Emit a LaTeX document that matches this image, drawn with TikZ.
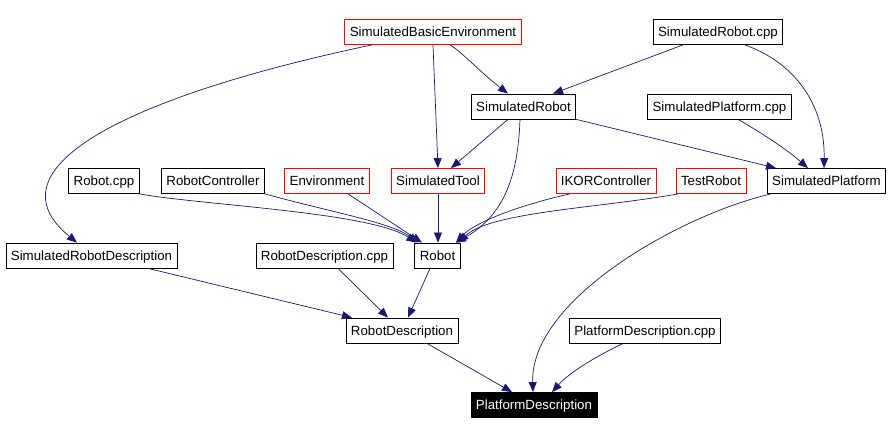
\documentclass[tikz,border=0pt]{standalone}
\usepackage{fontspec}
\setmainfont{Liberation Sans}
\usetikzlibrary{arrows.meta}

\definecolor{depblue}{RGB}{25,25,112}
\newcommand{\graphfont}{\fontsize{13.3pt}{16pt}\selectfont}

\tikzset{
  cls/.style={draw=black, line width=0.8pt, fill=white, font=\graphfont,
    inner xsep=5pt, inner ysep=6pt, text height=11.5pt, text depth=1.5pt},
  redcls/.style={cls, draw=red},
  maincls/.style={cls, fill=black, text=white},
  dep/.style={draw=depblue, line width=0.7pt, -{Triangle[length=10pt,width=8pt]}},
}

\begin{document}
\begin{tikzpicture}[x=1pt,y=-1pt]
  \useasboundingbox (0,0) rectangle (892,435);
  % Top rows
  \node[redcls] (SBE)    at (433,32)      {SimulatedBasicEnvironment};
  \node[cls]    (SRcpp)  at (718,32)      {SimulatedRobot.cpp};
  \node[cls]    (SR)     at (523.5,106.5) {SimulatedRobot};
  \node[cls]    (SPcpp)  at (719.5,106.5) {SimulatedPlatform.cpp};
  % Middle row
  \node[cls]    (Rcpp)   at (104,181)     {Robot.cpp};
  \node[cls]    (RC)     at (213,181)     {RobotController};
  \node[redcls] (Env)    at (327,181)     {Environment};
  \node[redcls] (ST)     at (438,181)     {SimulatedTool};
  \node[redcls] (IKOR)   at (606,181)     {IKORController};
  \node[redcls] (TR)     at (711,181)     {TestRobot};
  \node[cls]    (SP)     at (826.5,181)   {SimulatedPlatform};
  % Lower rows
  \node[cls]    (SRD)    at (91.5,255.5)  {SimulatedRobotDescription};
  \node[cls]    (RDcpp)  at (324.5,255.5) {RobotDescription.cpp};
  \node[cls]    (Robot)  at (437.5,255.5) {Robot};
  \node[cls]    (RD)     at (402,330.5)   {RobotDescription};
  \node[cls]    (PDcpp)  at (645,330.5)   {PlatformDescription.cpp};
  \node[maincls] (PD)    at (534,405)     {PlatformDescription};
  % Dependencies from the top
  \draw[dep] ([xshift=-61pt]SBE.south) .. controls (120,98) and (-12,170) .. ([xshift=-14.5pt]SRD.north);
  \draw[dep] (SBE.south) -- (ST.north);
  \draw[dep] ([xshift=17pt]SBE.south) .. controls (462,52) and (480,72) .. ([xshift=-15.5pt]SR.north);
  \draw[dep] ([xshift=-35pt]SRcpp.south) -- ([xshift=29.5pt]SR.north);
  \draw[dep] ([xshift=27pt]SRcpp.south) .. controls (800,65) and (825,110) .. ([xshift=-2.5pt]SP.north);
  \draw[dep] ([xshift=-15.5pt]SR.south) -- ([xshift=13pt]ST.north);
  \draw[dep] ([xshift=-3.5pt]SR.south) .. controls (518,175) and (505,215) .. ([xshift=18.5pt]Robot.north);
  \draw[dep] (SR.south east) -- ([xshift=-50.5pt]SP.north);
  \draw[dep] ([xshift=18.5pt]SPcpp.south) .. controls (760,132) and (785,148) .. ([xshift=-18.5pt]SP.north);
  % Into Robot
  \draw[dep] (Rcpp.south east) .. controls (200,205) and (370,212) .. ([xshift=-21pt]Robot.north);
  \draw[dep] (RC.south east) .. controls (330,212) and (390,222) .. ([xshift=-19pt]Robot.north);
  \draw[dep] ([xshift=21pt]Env.south) -- ([xshift=-15.5pt]Robot.north);
  \draw[dep] (ST.south) -- ([xshift=0.5pt]Robot.north);
  \draw[dep] ([xshift=-36pt]IKOR.south) .. controls (520,205) and (475,222) .. ([xshift=18.5pt]Robot.north);
  \draw[dep] ([xshift=-33pt]TR.south) .. controls (600,208) and (490,212) .. ([xshift=21pt]Robot.north);
  % Descriptions
  \draw[dep] ([xshift=56.5pt]SRD.south) -- ([xshift=-50pt]RD.north);
  \draw[dep] ([xshift=13.5pt]RDcpp.south) -- ([xshift=-14pt]RD.north);
  \draw[dep] ([xshift=-7.5pt]Robot.south) -- ([xshift=6pt]RD.north);
  \draw[dep] ([xshift=-55.5pt]SP.south) .. controls (680,215) and (530,300) .. ([xshift=-1pt]PD.north);
  \draw[dep] ([xshift=25pt]RD.south) -- ([xshift=-22pt]PD.north);
  \draw[dep] ([xshift=-22pt]PDcpp.south) .. controls (595,357) and (570,372) .. ([xshift=18pt]PD.north);
\end{tikzpicture}
\end{document}
